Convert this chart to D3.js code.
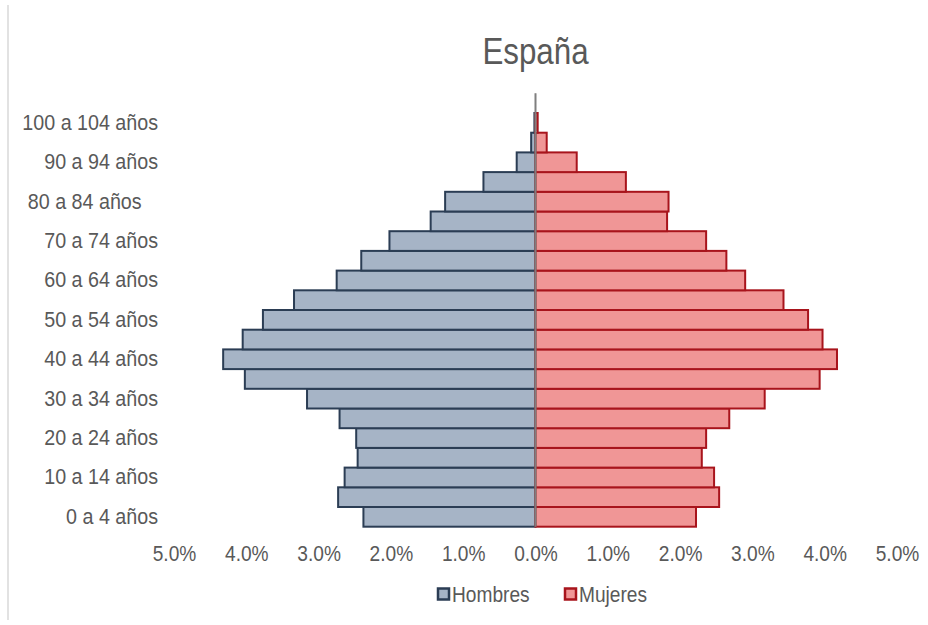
<!DOCTYPE html>
<html>
<head>
<meta charset="utf-8">
<script src="https://cdn.jsdelivr.net/npm/d3@7/dist/d3.min.js"></script>
<style>
  html, body { margin: 0; padding: 0; background: #fff; }
  svg { display: block; }
  text { font-family: "Liberation Sans", Arial, sans-serif; fill: #595959; }
</style>
</head>
<body>
<svg id="chart" width="928" height="625"></svg>
<script>
// Age groups (bottom to top)
const ageGroups = ["0 a 4 años","5 a 9 años","10 a 14 años","15 a 19 años","20 a 24 años",
  "25 a 29 años","30 a 34 años","35 a 39 años","40 a 44 años","45 a 49 años","50 a 54 años",
  "55 a 59 años","60 a 64 años","65 a 69 años","70 a 74 años","75 a 79 años","80 a 84 años   ",
  "85 a 89 años","90 a 94 años","95 a 99 años","100 a 104 años","105 y más años"];
// Percent of total population
const hombres = [2.38,2.73,2.64,2.46,2.48,2.71,3.16,4.02,4.32,4.05,3.77,3.34,2.75,2.41,2.02,1.45,1.25,0.72,0.26,0.06,0.015,0.003];
const mujeres = [2.22,2.54,2.47,2.30,2.36,2.68,3.17,3.93,4.17,3.97,3.77,3.43,2.90,2.64,2.36,1.82,1.84,1.25,0.57,0.155,0.03,0.004];
const xTicks = [-5,-4,-3,-2,-1,0,1,2,3,4,5];
const labeledGroups = ageGroups.filter((d,i) => i % 2 === 0);
const seriesNames = ["Hombres","Mujeres"];
const title = "España";

const colors = {
  Hombres: {fill: "#a6b4c6", stroke: "#2b3d54"},
  Mujeres: {fill: "#f09696", stroke: "#a8141c"}
};
const SX = 0.87; // horizontal text compression (condensed look)

const svg = d3.select("#chart");

// frame line on the left
svg.append("line").attr("x1", 8).attr("x2", 8).attr("y1", 5).attr("y2", 620)
  .attr("stroke", "#d9d9d9").attr("stroke-width", 1.5);

const x = d3.scaleLinear().domain([-5, 5]).range([174, 897]);
const y = d3.scaleBand().domain(ageGroups).range([526.7, 93.3]).padding(0);

// Title
svg.append("g").attr("transform", "translate(535.5,64)")
  .append("text").attr("transform", `scale(${SX},1)`)
  .attr("text-anchor", "middle")
  .style("font-size", "36px").text(title);

// Bars
const data = ageGroups.map((g, i) => ({g, h: hombres[i], m: mujeres[i]}));
const bars = svg.append("g");
const sw = w => (w < 1 ? 0 : 2);
bars.selectAll("rect.h").data(data).join("rect").attr("class","h")
  .attr("x", d => x(-d.h)).attr("width", d => x(0) - x(-d.h))
  .attr("y", d => y(d.g)).attr("height", y.bandwidth())
  .attr("fill", colors.Hombres.fill).attr("stroke", colors.Hombres.stroke)
  .attr("stroke-width", d => sw(x(0) - x(-d.h)));
bars.selectAll("rect.m").data(data).join("rect").attr("class","m")
  .attr("x", x(0)).attr("width", d => x(d.m) - x(0))
  .attr("y", d => y(d.g)).attr("height", y.bandwidth())
  .attr("fill", colors.Mujeres.fill).attr("stroke", colors.Mujeres.stroke)
  .attr("stroke-width", d => sw(x(d.m) - x(0)));

// Center axis line
svg.append("line").attr("x1", x(0)).attr("x2", x(0))
  .attr("y1", y.range()[1]).attr("y2", y.range()[0])
  .attr("stroke", "#7f7f7f").attr("stroke-width", 2);

// Y axis labels
const yAxis = d3.axisLeft(y).tickValues(labeledGroups).tickSize(0).tickPadding(0);
const yg = svg.append("g").attr("transform", "translate(158,0)").call(yAxis);
yg.select(".domain").remove();
yg.selectAll("text").attr("transform", "scale(0.895,1)")
  .style("font-size", "22px").style("fill", "#595959")
  .style("white-space", "pre")
  .style("font-family", "'Liberation Sans', Arial, sans-serif");

// X axis labels
const xAxis = d3.axisBottom(x).tickValues(xTicks).tickSize(0).tickPadding(0)
  .tickFormat(d => Math.abs(d).toFixed(1) + "%");
const xg = svg.append("g").attr("transform", "translate(0,553)").call(xAxis);
xg.select(".domain").remove();
xg.selectAll("text").attr("y", 0).attr("dy", "0.36em")
  .attr("transform", `scale(${SX},1)`)
  .style("font-size", "22px").style("fill", "#595959")
  .style("font-family", "'Liberation Sans', Arial, sans-serif");

// Legend
const legend = svg.append("g");
const legendX = [437, 564];
seriesNames.forEach((s, i) => {
  const g = legend.append("g").attr("transform", `translate(${legendX[i]},594)`);
  g.append("rect").attr("x", 1).attr("y", -5.5).attr("width", 11).attr("height", 11)
    .attr("fill", colors[s].fill).attr("stroke", colors[s].stroke).attr("stroke-width", 2.5);
  g.append("g").attr("transform", "translate(15,0)")
    .append("text").attr("transform", `scale(${SX},1)`)
    .attr("dy", "0.36em")
    .style("font-size", "22px")
    .text(s);
});
</script>
</body>
</html>
